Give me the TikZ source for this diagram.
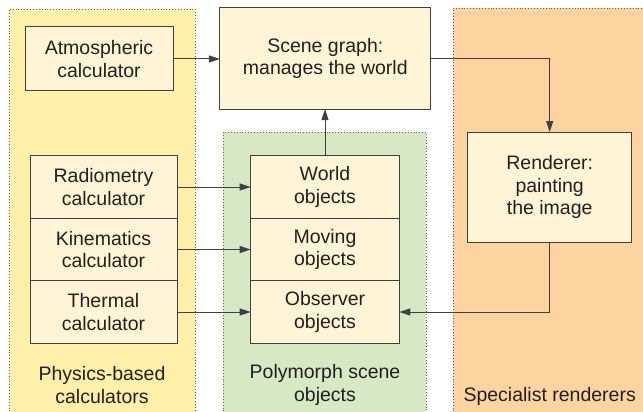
\documentclass[tikz,border=0pt]{standalone}
\usepackage{fontspec}
\setmainfont{Liberation Sans}
\usetikzlibrary{arrows.meta}
\definecolor{panelY}{RGB}{255,239,168}
\definecolor{panelG}{RGB}{214,232,196}
\definecolor{panelO}{RGB}{253,212,160}
\definecolor{boxfill}{RGB}{255,245,214}
\definecolor{lineC}{RGB}{64,64,64}
\definecolor{txtC}{RGB}{35,31,32}
\begin{document}
\begin{tikzpicture}[x=1pt,y=-1pt,
  panel/.style={draw=lineC!80, dotted, line width=0.9pt},
  box/.style={draw=lineC, fill=boxfill, line width=1pt, inner sep=0pt, outer sep=0pt,
    align=center, text=txtC, font=\fontsize{19.5}{22.7}\selectfont},
  lbl/.style={align=center, text=txtC, font=\fontsize{19.5}{22.7}\selectfont},
  conn/.style={draw=lineC, line width=1pt, -{Triangle[length=11pt,width=7pt]}}]
\useasboundingbox (0,0) rectangle (643,412);
\clip (0,0) rectangle (643,412);
% panels
\fill[panelY] (9,9) rectangle (195,420);
\draw[panel] (9,420) -- (9,9) -- (195,9) -- (195,420);
\fill[panelG] (223,132) rectangle (426,420);
\draw[panel] (223,420) -- (223,132) -- (426,132) -- (426,420);
\fill[panelO] (453,8) rectangle (650,420);
\draw[panel] (453,420) -- (453,8) -- (650,8);
% boxes
\node[box, minimum width=148pt, minimum height=64pt] (atm) at (99,59) {Atmospheric\\calculator};
\node[box, minimum width=210.7pt, minimum height=101pt] (scene) at (325.3,58.5) {Scene graph:\\manages the world};
\node[box, minimum width=164pt, minimum height=110pt] (rend) at (549.7,187) {Renderer:\\painting\\the image};
\node[box, minimum width=147pt, minimum height=62.5pt] (rad) at (103.5,187) {Radiometry\\calculator};
\node[box, minimum width=147pt, minimum height=62.5pt] (kin) at (103.5,249.5) {Kinematics\\calculator};
\node[box, minimum width=147pt, minimum height=62.5pt] (therm) at (103.5,312) {Thermal\\calculator};
\node[box, minimum width=148.6pt, minimum height=62.5pt] (world) at (325,187) {World\\objects};
\node[box, minimum width=148.6pt, minimum height=62.5pt] (moving) at (325,249.5) {Moving\\objects};
\node[box, minimum width=148.6pt, minimum height=62.5pt] (obs) at (325,312) {Observer\\objects};
% labels
\node[lbl] (lphys) at (102,385) {Physics-based\\calculators};
\node[lbl] (lpoly) at (325,385) {Polymorph scene\\objects};
\node[lbl] (lspec) at (549.7,396) {Specialist renderers};
% connectors
\draw[conn] (atm.east) -- (atm.east -| scene.west);
\draw[conn] (scene.east) -| (rend.north);
\draw[conn] (rend.south) |- (obs.east);
\draw[conn] (world.north) -- (world.north |- scene.south);
\draw[conn] (rad.east) -- (world.west);
\draw[conn] (kin.east) -- (moving.west);
\draw[conn] (therm.east) -- (obs.west);
\end{tikzpicture}
\end{document}
